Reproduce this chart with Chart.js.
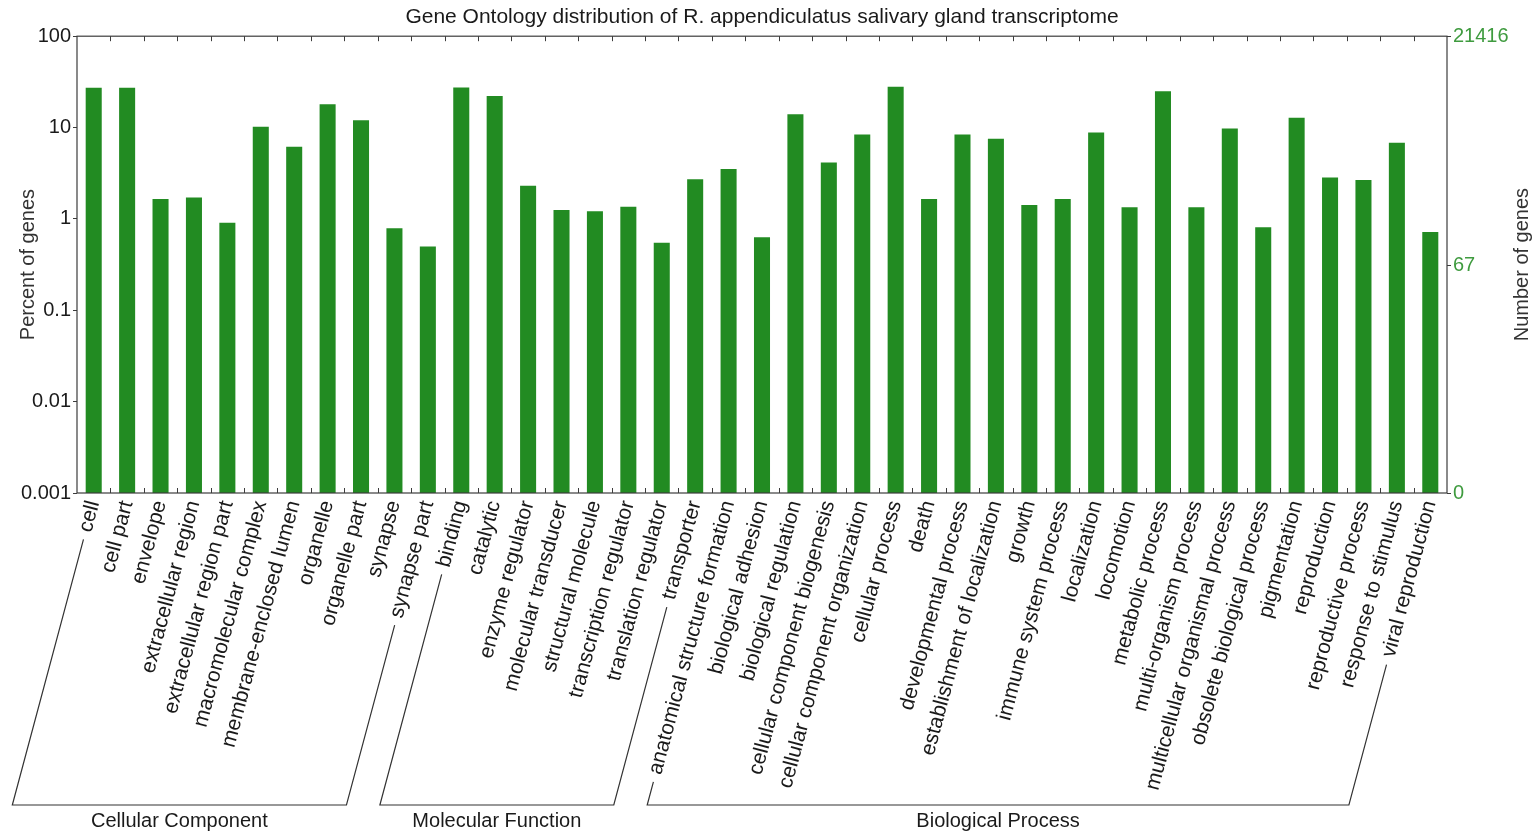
<!DOCTYPE html>
<html>
<head>
<meta charset="utf-8">
<title>Gene Ontology distribution</title>
<script src="https://cdn.jsdelivr.net/npm/chart.js@4.4.1/dist/chart.umd.min.js"></script>
<style>
  html, body { margin: 0; padding: 0; background: #ffffff; }
  #wrap { width: 1539px; height: 834px; position: relative; }
</style>
</head>
<body>
<div id="wrap"><canvas id="goChart" width="1539" height="834"></canvas></div>
<script>
// GO term categories, in plotting order
const categories = [
  'cell', 'cell part', 'envelope', 'extracellular region', 'extracellular region part',
  'macromolecular complex', 'membrane-enclosed lumen', 'organelle', 'organelle part',
  'synapse', 'synapse part',
  'binding', 'catalytic', 'enzyme regulator', 'molecular transducer', 'structural molecule',
  'transcription regulator', 'translation regulator', 'transporter',
  'anatomical structure formation', 'biological adhesion', 'biological regulation',
  'cellular component biogenesis', 'cellular component organization', 'cellular process',
  'death', 'developmental process', 'establishment of localization', 'growth',
  'immune system process', 'localization', 'locomotion', 'metabolic process',
  'multi-organism process', 'multicellular organismal process', 'obsolete biological process',
  'pigmentation', 'reproduction', 'reproductive process', 'response to stimulus',
  'viral reproduction'
];

// Percent of annotated genes in each category
const percentValues = [
  27.2, 27.2, 1.65, 1.72, 0.91, 10.2, 6.15, 18.0, 12.05, 0.79, 0.50,
  27.5, 22.1, 2.30, 1.25, 1.21, 1.36, 0.55, 2.72,
  3.51, 0.63, 14.0, 4.15, 8.4, 27.9, 1.65, 8.4, 7.52, 1.42, 1.65, 8.84,
  1.34, 25.0, 1.34, 9.78, 0.81, 12.8, 2.84, 2.66, 6.8, 0.72
];

// Ontology groups: names and number of consecutive categories in each
const groupNames = ['Cellular Component', 'Molecular Function', 'Biological Process'];
const groupSizes = [11, 8, 22];

// Axis ticks
const percentTicks = [0.001, 0.01, 0.1, 1, 10, 100];
const totalGenes = 21416;
const geneTicks = [67, totalGenes];

const FONT = "'Liberation Sans', Arial, Helvetica, sans-serif";
const BAR_GREEN = '#228B22';
const AXIS_GREEN = '#3f9b3f';
const FRAME = '#3c3c3c';

// Frame, inward category ticks, group brackets and right-hand axis title
const goDecorations = {
  id: 'goDecorations',
  afterDraw(chart) {
    const { ctx, chartArea: a, scales } = chart;
    const x = scales.x;
    ctx.save();

    // plot frame
    ctx.strokeStyle = FRAME;
    ctx.lineWidth = 1.2;
    ctx.strokeRect(a.left, a.top, a.right - a.left, a.bottom - a.top);

    // small inward ticks on category boundaries, top and bottom
    ctx.lineWidth = 1;
    ctx.beginPath();
    for (let i = 1; i < categories.length; i++) {
      const px = Math.round(x.getPixelForValue(i - 0.5)) + 0.5;
      ctx.moveTo(px, a.top); ctx.lineTo(px, a.top + 5);
      ctx.moveTo(px, a.bottom); ctx.lineTo(px, a.bottom - 5);
    }
    ctx.stroke();

    // group brackets following the slant of the category labels
    const items = x.getLabelItems();
    const baseY = 805;
    const gap = 8;
    const labelFont = x.options.ticks.font;
    ctx.font = `${labelFont.size}px ${labelFont.family}`;
    const startOf = (idx) => {
      const it = items[idx];
      const [tx, ty] = it.options.translation;
      const th = it.options.rotation;
      const w = ctx.measureText(String(it.label)).width + gap;
      const off = it.textOffset;
      const sx = tx - w * Math.cos(th) - off * Math.sin(th);
      const sy = ty - w * Math.sin(th) + off * Math.cos(th);
      // continue down along the text direction to the baseline
      const dx = -Math.cos(th), dy = -Math.sin(th);
      const t = (baseY - sy) / dy;
      return { sx, sy, ex: sx + dx * t, ey: baseY };
    };

    ctx.strokeStyle = '#333333';
    ctx.lineWidth = 1.2;
    ctx.fillStyle = '#1a1a1a';
    ctx.textAlign = 'center';
    ctx.textBaseline = 'middle';
    let first = 0;
    groupNames.forEach((name, g) => {
      const last = first + groupSizes[g] - 1;
      const L = startOf(first);
      const R = startOf(last);
      ctx.beginPath();
      ctx.moveTo(L.sx, L.sy);
      ctx.lineTo(L.ex, L.ey);
      ctx.lineTo(R.ex, R.ey);
      ctx.lineTo(R.sx, R.sy);
      ctx.stroke();
      ctx.font = `20px ${FONT}`;
      ctx.fillText(name, (L.ex + R.ex) / 2, 821);
      ctx.font = `${labelFont.size}px ${labelFont.family}`;
      first = last + 1;
    });

    // right axis title, reading bottom to top
    ctx.font = `20px ${FONT}`;
    ctx.fillStyle = '#333333';
    ctx.translate(1522, (a.top + a.bottom) / 2);
    ctx.rotate(-Math.PI / 2);
    ctx.fillText('Number of genes', 0, 0);
    ctx.restore();
  }
};

new Chart(document.getElementById('goChart'), {
  type: 'bar',
  data: {
    labels: categories,
    datasets: [{
      label: 'Percent of genes',
      data: percentValues,
      backgroundColor: BAR_GREEN,
      borderWidth: 0,
      categoryPercentage: 1,
      barPercentage: 0.48,
      yAxisID: 'y'
    }]
  },
  options: {
    responsive: false,
    animation: false,
    devicePixelRatio: 1,
    layout: { padding: 0 },
    plugins: {
      legend: { display: false },
      tooltip: { enabled: false },
      title: {
        display: true,
        fullSize: false,
        text: 'Gene Ontology distribution of R. appendiculatus salivary gland transcriptome',
        color: '#1a1a1a',
        font: { family: FONT, size: 21, weight: 'normal', lineHeight: 1.2 },
        padding: { top: 5, bottom: 6 }
      }
    },
    scales: {
      x: {
        type: 'category',
        offset: true,
        grid: { display: false, drawTicks: false },
        border: { display: false },
        ticks: {
          autoSkip: false,
          minRotation: 75,
          maxRotation: 75,
          padding: 5,
          color: '#1a1a1a',
          font: { family: FONT, size: 21 }
        },
        afterFit(scale) { scale.height = 341; }
      },
      y: {
        type: 'logarithmic',
        position: 'left',
        min: percentTicks[0],
        max: percentTicks[percentTicks.length - 1],
        grid: { display: true, drawOnChartArea: false, drawTicks: true, tickLength: 4, color: FRAME },
        border: { display: false },
        ticks: {
          padding: 2,
          color: '#1a1a1a',
          font: { family: FONT, size: 20 },
          callback: (v) => String(v)
        },
        afterBuildTicks(scale) { scale.ticks = percentTicks.map(v => ({ value: v })); },
        title: {
          display: true,
          text: 'Percent of genes',
          color: '#333333',
          font: { family: FONT, size: 20 },
          padding: { top: 16, bottom: 0 }
        },
        afterFit(scale) { scale.width = 77; }
      },
      y1: {
        type: 'logarithmic',
        position: 'right',
        min: totalGenes * percentTicks[0] / 100,
        max: totalGenes,
        grid: { display: true, drawOnChartArea: false, drawTicks: true, tickLength: 4, color: FRAME },
        border: { display: false },
        ticks: {
          padding: 2,
          color: AXIS_GREEN,
          font: { family: FONT, size: 20 },
          callback: (v) => String(Math.round(v))
        },
        afterBuildTicks(scale) {
          scale.ticks = [scale.min].concat(geneTicks).map(v => ({ value: v }));
        },
        afterFit(scale) { scale.width = 92; }
      }
    }
  },
  plugins: [goDecorations]
});
</script>
</body>
</html>
